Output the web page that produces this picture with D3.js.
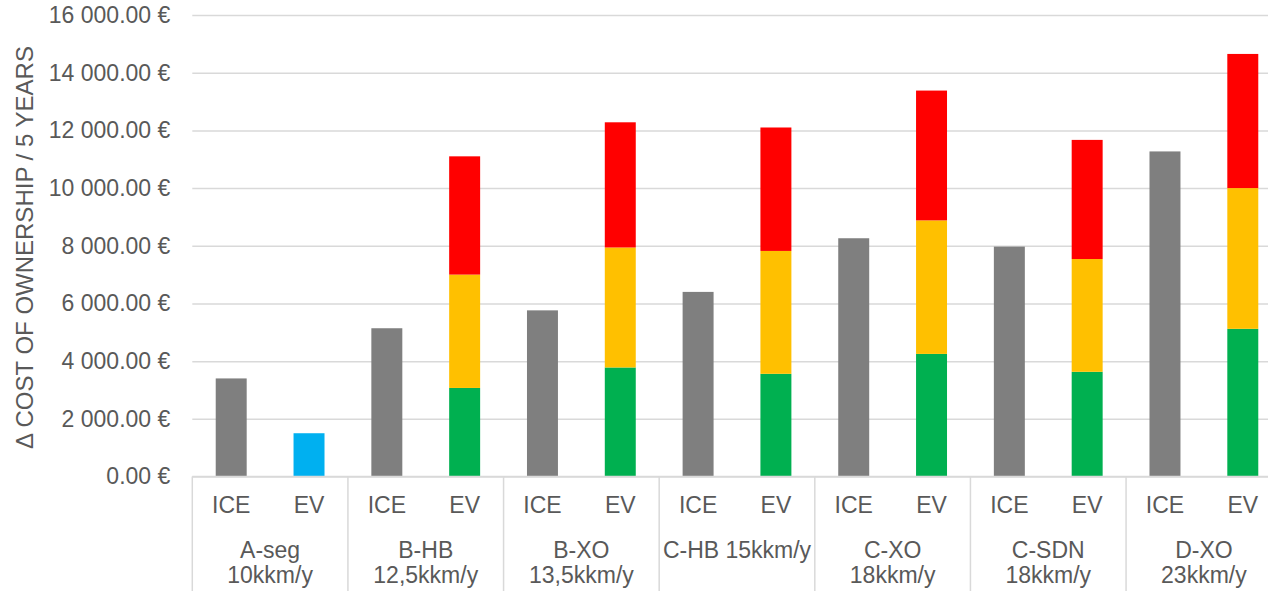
<!DOCTYPE html>
<html>
<head>
<meta charset="utf-8">
<script src="https://cdn.jsdelivr.net/npm/d3@7"></script>
<style>
  html, body { margin: 0; padding: 0; background: #fff; }
  svg { display: block; font-family: "Liberation Sans", Arial, sans-serif; }
</style>
</head>
<body>
<svg id="chart" width="1268" height="591"></svg>
<script>
// Segment groups (label lines) and the two vehicle types in each
const groupLabels = [
  ["A-seg", "10kkm/y"],
  ["B-HB", "12,5kkm/y"],
  ["B-XO", "13,5kkm/y"],
  ["C-HB 15kkm/y"],
  ["C-XO", "18kkm/y"],
  ["C-SDN", "18kkm/y"],
  ["D-XO", "23kkm/y"]
];
const vehicleTypes = ["ICE", "EV"];

// ICE cost of ownership over 5 years
const iceCost = [3400, 5140, 5760, 6400, 8260, 7970, 11270];

// EV cost of ownership, stacked components
const evSingle = [1500, 0, 0, 0, 0, 0, 0];
const evLow    = [0, 3070, 3780, 3560, 4250, 3630, 5120];
const evMid    = [0, 3930, 4160, 4260, 4630, 3910, 4880];
const evHigh   = [0, 4100, 4340, 4280, 4500, 4130, 4650];

const yTicks = [0, 2000, 4000, 6000, 8000, 10000, 12000, 14000, 16000];

const colors = {
  ice: "#7f7f7f",
  single: "#00b0f0",
  low: "#00b050",
  mid: "#ffc000",
  high: "#ff0000"
};

const svg = d3.select("#chart");
const plot = { left: 192.3, right: 1281.7, top: 15, bottom: 476.5 };
const textColor = "#595959";
const gridColor = "#d9d9d9";

const groupIdx = d3.range(groupLabels.length);

const x0 = d3.scaleBand().domain(groupIdx).range([plot.left, plot.right]).padding(0);
const x1 = d3.scaleBand().domain(vehicleTypes).range([0, x0.bandwidth()])
  .paddingInner(0.602).paddingOuter(0.301);
const y = d3.scaleLinear().domain([0, 16000]).range([plot.bottom, plot.top]);

const euroLocale = d3.formatLocale({ decimal: ".", thousands: "\u00a0", grouping: [3], currency: ["", ""] });
const fmt = euroLocale.format(",.2f");

// Gridlines and y tick labels
const yAxis = d3.axisLeft(y)
  .tickValues(yTicks)
  .tickSize(-(plot.right - plot.left))
  .tickPadding(22)
  .tickFormat(d => fmt(d) + " \u20ac");

const yg = svg.append("g")
  .attr("transform", `translate(${plot.left},0)`)
  .call(yAxis);
yg.select(".domain").remove();
yg.selectAll(".tick line").attr("stroke", gridColor).attr("stroke-width", 1.5);
yg.selectAll(".tick text")
  .attr("fill", textColor)
  .attr("font-size", 23)
  .attr("font-family", "Liberation Sans, Arial, sans-serif");

// Y axis title
svg.append("text")
  .attr("transform", "translate(32.5,247.5) rotate(-90)")
  .attr("text-anchor", "middle")
  .attr("fill", textColor)
  .attr("font-size", 24)
  .text("\u0394 COST OF OWNERSHIP / 5 YEARS");

// ICE bars
svg.append("g").selectAll("rect")
  .data(groupIdx)
  .join("rect")
  .attr("x", i => x0(i) + x1("ICE"))
  .attr("width", x1.bandwidth())
  .attr("y", i => y(iceCost[i]))
  .attr("height", i => y(0) - y(iceCost[i]))
  .attr("fill", colors.ice);

// EV stacked bars
const evRows = groupIdx.map(i => ({
  idx: i, single: evSingle[i], low: evLow[i], mid: evMid[i], high: evHigh[i]
}));
const stack = d3.stack().keys(["single", "low", "mid", "high"]);
const layers = stack(evRows);

svg.append("g").selectAll("g")
  .data(layers)
  .join("g")
  .attr("fill", d => colors[d.key])
  .selectAll("rect")
  .data(d => d.filter(s => s[1] > s[0]))
  .join("rect")
  .attr("x", s => x0(s.data.idx) + x1("EV"))
  .attr("width", x1.bandwidth())
  .attr("y", s => y(s[1]))
  .attr("height", s => y(s[0]) - y(s[1]));

// Category axis: baseline, group separators, labels
svg.append("line")
  .attr("x1", plot.left).attr("x2", plot.right)
  .attr("y1", plot.bottom).attr("y2", plot.bottom)
  .attr("stroke", gridColor).attr("stroke-width", 1.5);

const bounds = groupIdx.map(i => x0(i)).concat([plot.right]);
svg.append("g").selectAll("line")
  .data(bounds)
  .join("line")
  .attr("x1", d => d).attr("x2", d => d)
  .attr("y1", plot.bottom).attr("y2", 591)
  .attr("stroke", gridColor).attr("stroke-width", 1.5);

const typeLabels = svg.append("g");
groupIdx.forEach(i => {
  vehicleTypes.forEach(t => {
    typeLabels.append("text")
      .attr("x", x0(i) + x1(t) + x1.bandwidth() / 2)
      .attr("y", 513)
      .attr("text-anchor", "middle")
      .attr("fill", textColor)
      .attr("font-size", 23)
      .text(t);
  });
});

const gLabels = svg.append("g");
groupIdx.forEach(i => {
  const t = gLabels.append("text")
    .attr("x", x0(i) + x0.bandwidth() / 2)
    .attr("y", 558)
    .attr("text-anchor", "middle")
    .attr("fill", textColor)
    .attr("font-size", 23);
  groupLabels[i].forEach((line, k) => {
    t.append("tspan")
      .attr("x", x0(i) + x0.bandwidth() / 2)
      .attr("dy", k === 0 ? 0 : 25)
      .text(line);
  });
});
</script>
</body>
</html>
